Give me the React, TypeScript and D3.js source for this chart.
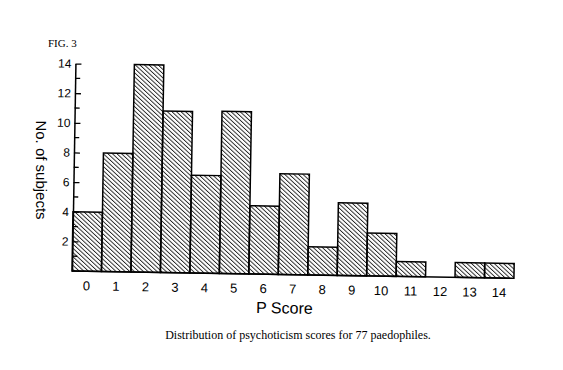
import React, { useEffect, useRef } from 'react';
import * as d3 from 'd3';

// P score categories and number of subjects
const scores = ['0', '1', '2', '3', '4', '5', '6', '7', '8', '9', '10', '11', '12', '13', '14'];
const subjects = [4, 8, 14, 10.9, 6.6, 10.95, 4.6, 6.8, 1.9, 4.9, 2.9, 1, 0, 1, 1];
const majorTicks = [2, 4, 6, 8, 10, 12, 14];
const minorTicks = [1, 3, 5, 7, 9, 11, 13];

const W = 563;
const H = 370;

const App = () => {
  const svgRef = useRef<SVGSVGElement>(null);

  useEffect(() => {
    const svg = d3.select(svgRef.current);
    svg.selectAll('*').remove();

    const left = 72, right = 514, bottom = 271, top = 63.5;

    const defs = svg.append('defs');
    const pat = defs.append('pattern')
      .attr('id', 'hatch')
      .attr('patternUnits', 'userSpaceOnUse')
      .attr('width', 3.1)
      .attr('height', 3.1)
      .attr('patternTransform', 'rotate(-48)');
    pat.append('line')
      .attr('x1', 0.5).attr('y1', 0)
      .attr('x2', 0.5).attr('y2', 3.1)
      .attr('stroke', '#000')
      .attr('stroke-width', 0.8);

    const x = d3.scaleBand()
      .domain(scores)
      .range([left, right])
      .paddingInner(0)
      .paddingOuter(0);

    const y = d3.scaleLinear()
      .domain([0, 14])
      .range([bottom, top]);

    // the scanned figure sits slightly tilted
    const g = svg.append('g')
      .attr('transform', `rotate(0.95, ${left}, ${bottom})`);

    // bars
    g.append('g')
      .selectAll('rect')
      .data(scores.map((s, i) => ({ s, v: subjects[i] })).filter(d => d.v > 0))
      .join('rect')
      .attr('x', d => x(d.s))
      .attr('y', d => y(d.v))
      .attr('width', x.bandwidth())
      .attr('height', d => y(0) - y(d.v))
      .attr('fill', 'url(#hatch)')
      .attr('stroke', '#000')
      .attr('stroke-width', 1.5);

    // baseline
    g.append('line')
      .attr('x1', left).attr('x2', right)
      .attr('y1', y(0)).attr('y2', y(0))
      .attr('stroke', '#000')
      .attr('stroke-width', 1.5);

    // y axis, ticks pointing inward
    const yAxis = g.append('g')
      .attr('transform', `translate(${left},0)`)
      .call(d3.axisLeft(y).tickValues(majorTicks).tickSizeInner(-6).tickSizeOuter(0).tickPadding(4));
    yAxis.select('.domain').attr('stroke-width', 1.5);
    yAxis.selectAll('.tick line').attr('stroke-width', 1.3);
    yAxis.selectAll('.tick text')
      .attr('font-family', 'Liberation Sans, Arial, sans-serif')
      .attr('font-size', 12)
      .attr('fill', '#000');

    g.append('g')
      .selectAll('line')
      .data(minorTicks)
      .join('line')
      .attr('x1', left).attr('x2', left + 5)
      .attr('y1', d => y(d)).attr('y2', d => y(d))
      .attr('stroke', '#000')
      .attr('stroke-width', 1.3);

    // x labels
    g.append('g')
      .selectAll('text')
      .data(scores)
      .join('text')
      .attr('x', d => x(d) + x.bandwidth() / 2)
      .attr('y', bottom + 19)
      .attr('text-anchor', 'middle')
      .attr('font-family', 'Liberation Sans, Arial, sans-serif')
      .attr('font-size', 13)
      .text(d => d);

    g.append('text')
      .attr('x', 285)
      .attr('y', bottom + 39)
      .attr('text-anchor', 'middle')
      .attr('font-family', 'Liberation Sans, Arial, sans-serif')
      .attr('font-size', 16)
      .text('P Score');

    // y label
    svg.append('text')
      .attr('transform', `translate(36, 170) rotate(90)`)
      .attr('text-anchor', 'middle')
      .attr('font-family', 'Liberation Sans, Arial, sans-serif')
      .attr('font-size', 15)
      .text('No. of subjects');

    svg.append('text')
      .attr('x', 48)
      .attr('y', 47)
      .attr('font-family', 'Liberation Serif, Times New Roman, serif')
      .attr('font-size', 11)
      .text('FIG. 3');

    svg.append('text')
      .attr('x', 298)
      .attr('y', 339)
      .attr('text-anchor', 'middle')
      .attr('font-family', 'Liberation Serif, Times New Roman, serif')
      .attr('font-size', 12)
      .text('Distribution of psychoticism scores for 77 paedophiles.');
  }, []);

  return (
    <svg ref={svgRef} width={W} height={H}
      style={{ position: 'absolute', left: 0, top: 0, background: '#fff' }} />
  );
};

export default App;
